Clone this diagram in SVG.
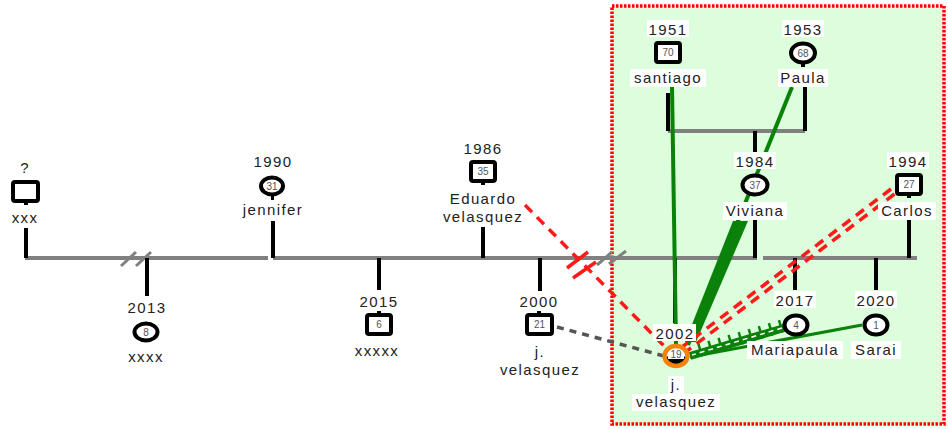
<svg xmlns="http://www.w3.org/2000/svg" width="948" height="429" viewBox="0 0 948 429">
  <defs>
    <style>
      .lbl{font-family:"Liberation Sans",Arial,sans-serif;font-size:15px;letter-spacing:1.4px;fill:#222;text-anchor:middle}
      .age{font-family:"Liberation Sans",Arial,sans-serif;font-size:10px;fill:#555;text-anchor:middle}
      .sq{fill:#fff;stroke:#000;stroke-width:4}
      .ci{fill:#fff;stroke:#000;stroke-width:4}
      .tab{fill:#000}
      .bg{fill:#fff}
      .kin{stroke:#000;stroke-width:4;fill:none}
      .union{stroke:#808080;stroke-width:4;fill:none}
      .brk{stroke:#808080;stroke-width:3;fill:none}
      .brk-red{stroke:#ff1a1a;stroke-width:3.5;fill:none}
      .close{stroke:#0a820a;stroke-width:4;fill:none}
      .close-thin{stroke:#0a820a;stroke-width:3;fill:none}
      .hostile{stroke:#0a820a;stroke-width:8;fill:none}
      .teeth{stroke:#0a820a;stroke-width:13;fill:none;stroke-dasharray:2.5 8}
      .hostile-core{stroke:#fff;stroke-width:1.5;fill:none;stroke-dasharray:5 4}
      .conflict{stroke:#ff1a1a;stroke-width:3.5;fill:none;stroke-dasharray:10 7}
      .distant{stroke:#555;stroke-width:3.5;fill:none;stroke-dasharray:7 6}
    </style>
  </defs>

  <rect width="948" height="429" fill="#fff"/>

  <!-- household zone -->
  <rect id="zone" x="612" y="6" width="332" height="418" fill="#dcfedc" stroke="#ff0000" stroke-width="3.5" stroke-dasharray="2.5 1.5"/>

  <g id="connectors">
    <!-- union lines -->
    <path class="union" d="M25 258H268"/>
    <path class="union" d="M273 258H757"/>
    <path class="union" d="M763 258H917"/>
    <path class="union" d="M668 131H805"/>
    <!-- separation marks -->
    <path class="brk" d="M121 266L136 252M136 266L151 252"/>
    <path class="brk" d="M597 265L612 252M609 264L626 251"/>
    <!-- descent / partner stems -->
    <path class="kin" d="M26 228V258"/>
    <path class="kin" d="M147 258V296"/>
    <path class="kin" d="M273 221V258"/>
    <path class="kin" d="M379 258V290"/>
    <path class="kin" d="M483 227V258"/>
    <path class="kin" d="M540 258V291"/>
    <path class="kin" d="M668 93V131"/>
    <path class="kin" d="M805 87V131"/>
    <path class="kin" d="M755 131V152"/>
    <path class="kin" d="M755 220V258"/>
    <path class="kin" d="M909 220V258"/>
    <path class="kin" d="M795 258V290"/>
    <path class="kin" d="M876 258V290"/>
    <path class="kin" d="M675 258V323"/>

    <!-- emotional relationships -->
    <path class="close" d="M672 87L676 345"/>
    <path class="close" d="M792 87L688 345"/>
    <polygon points="733,221 748,221 696,342 685,342" fill="#0a820a"/>
    <path class="close-thin" d="M862 325L690 357"/>
    <!-- hostile tie -->
    <path class="hostile" d="M784 328L690 356"/>
    <path class="teeth" d="M782 326L694 352"/>
    <path class="hostile-core" d="M782 328L692 355"/>
    <!-- conflict lines -->
    <path class="conflict" d="M525 205L668 350"/>
    <path class="brk-red" d="M567 268L588 252M573 278L596 262"/>
    <path class="conflict" d="M894.5 194L685.5 352"/>
    <path class="conflict" d="M891 189L682 347"/>
    <!-- distant tie -->
    <path class="distant" d="M557 327L664 356"/>
  </g>

  <g id="n-xxx">
    <text class="lbl" x="25" y="173">?</text>
    <rect class="sq" x="13" y="182" width="25" height="19" rx="2"/>
    <rect class="tab" x="24" y="201" width="4" height="4"/>
    <text class="lbl" x="25" y="223">xxx</text>
  </g>

  <g id="n-2013">
    <text class="lbl" x="147" y="313">2013</text>
    <ellipse class="ci" cx="146" cy="332" rx="11.5" ry="8.5"/>
    <text class="age" x="146" y="335.5">8</text>
    <text class="lbl" x="146" y="362">xxxx</text>
  </g>

  <g id="n-jennifer">
    <text class="lbl" x="273" y="167">1990</text>
    <ellipse class="ci" cx="272" cy="186" rx="11" ry="8.5"/>
    <rect class="tab" x="271" y="196" width="3" height="4"/>
    <text class="age" x="272" y="189.5">31</text>
    <text class="lbl" x="273" y="215">jennifer</text>
  </g>

  <g id="n-2015">
    <text class="lbl" x="379" y="307">2015</text>
    <rect class="tab" x="377" y="311" width="4" height="4"/>
    <rect class="sq" x="367" y="315" width="24" height="19" rx="2"/>
    <text class="age" x="379" y="328">6</text>
    <text class="lbl" x="377" y="356">xxxxx</text>
  </g>

  <g id="n-eduardo">
    <text class="lbl" x="483" y="154">1986</text>
    <rect class="sq" x="471" y="162" width="24" height="19" rx="2"/>
    <rect class="tab" x="481" y="181" width="4" height="4"/>
    <text class="age" x="483" y="175">35</text>
    <text class="lbl" x="483" y="204">Eduardo</text>
    <text class="lbl" x="483" y="222">velasquez</text>
  </g>

  <g id="n-2000">
    <text class="lbl" x="539" y="307">2000</text>
    <rect class="tab" x="537" y="311" width="4" height="4"/>
    <rect class="sq" x="527" y="315" width="25" height="19" rx="2"/>
    <text class="age" x="539.5" y="328">21</text>
    <text class="lbl" x="540" y="357">j.</text>
    <text class="lbl" x="540" y="375">velasquez</text>
  </g>

  <g id="n-santiago">
    <rect class="bg" x="647" y="20" width="42" height="17"/>
    <text class="lbl" x="668" y="35">1951</text>
    <rect class="sq" x="656" y="43" width="24" height="19" rx="2"/>
    <text class="age" x="668" y="56">70</text>
    <rect class="bg" x="630" y="69" width="76" height="18"/>
    <text class="lbl" x="668" y="83">santiago</text>
  </g>

  <g id="n-paula">
    <rect class="bg" x="782" y="20" width="42" height="17"/>
    <text class="lbl" x="803" y="35">1953</text>
    <ellipse class="ci" cx="803" cy="53" rx="12" ry="9.5"/>
    <rect class="tab" x="801" y="63" width="4" height="4"/>
    <text class="age" x="803" y="56.5">68</text>
    <rect class="bg" x="778" y="69" width="50" height="18"/>
    <text class="lbl" x="803" y="83">Paula</text>
  </g>

  <g id="n-viviana">
    <rect class="bg" x="734" y="152" width="42" height="17"/>
    <text class="lbl" x="755" y="167">1984</text>
    <ellipse class="ci" cx="755" cy="185" rx="12.5" ry="9.5"/>
    <text class="age" x="755" y="188.5">37</text>
    <rect class="bg" x="723" y="202" width="64" height="18"/>
    <text class="lbl" x="755" y="216">Viviana</text>
  </g>

  <g id="n-carlos">
    <rect class="bg" x="887" y="152" width="42" height="17"/>
    <text class="lbl" x="908" y="167">1994</text>
    <rect class="sq" x="897" y="175" width="24" height="19" rx="2"/>
    <rect class="tab" x="907" y="194" width="4" height="4"/>
    <text class="age" x="909" y="188">27</text>
    <rect class="bg" x="878" y="202" width="58" height="18"/>
    <text class="lbl" x="907" y="216">Carlos</text>
  </g>

  <g id="n-mariapaula">
    <rect class="bg" x="774" y="291" width="42" height="17"/>
    <text class="lbl" x="795" y="306">2017</text>
    <ellipse class="ci" cx="796" cy="325" rx="11.5" ry="9.5"/>
    <text class="age" x="796" y="328.5">4</text>
    <rect class="bg" x="747" y="341" width="96" height="18"/>
    <text class="lbl" x="795" y="355">Mariapaula</text>
  </g>

  <g id="n-sarai">
    <rect class="bg" x="855" y="291" width="42" height="17"/>
    <text class="lbl" x="876" y="306">2020</text>
    <ellipse class="ci" cx="876" cy="325" rx="11.5" ry="9.5"/>
    <text class="age" x="876" y="328.5">1</text>
    <rect class="bg" x="851" y="341" width="50" height="18"/>
    <text class="lbl" x="876" y="355">Sarai</text>
  </g>

  <g id="n-jvelasquez">
    <rect class="bg" x="653" y="324" width="43" height="17"/>
    <text class="lbl" x="675" y="339">2002</text>
    <ellipse cx="676" cy="356" rx="11.5" ry="10" fill="#fff"/>
    <path d="M664.5 356.5A11.5 9.5 0 0 0 687.5 356.5Z" fill="#000"/>
    <rect class="bg" x="668" y="349" width="16" height="10"/>
    <text class="age" x="676" y="358">19</text>
    <ellipse cx="676" cy="356" rx="11.5" ry="10" fill="none" stroke="#f5820a" stroke-width="4.5"/>
    <rect class="bg" x="668" y="376" width="16" height="18"/>
    <text class="lbl" x="676" y="390">j.</text>
    <rect class="bg" x="632" y="394" width="88" height="17"/>
    <text class="lbl" x="676" y="407">velasquez</text>
  </g>
</svg>
